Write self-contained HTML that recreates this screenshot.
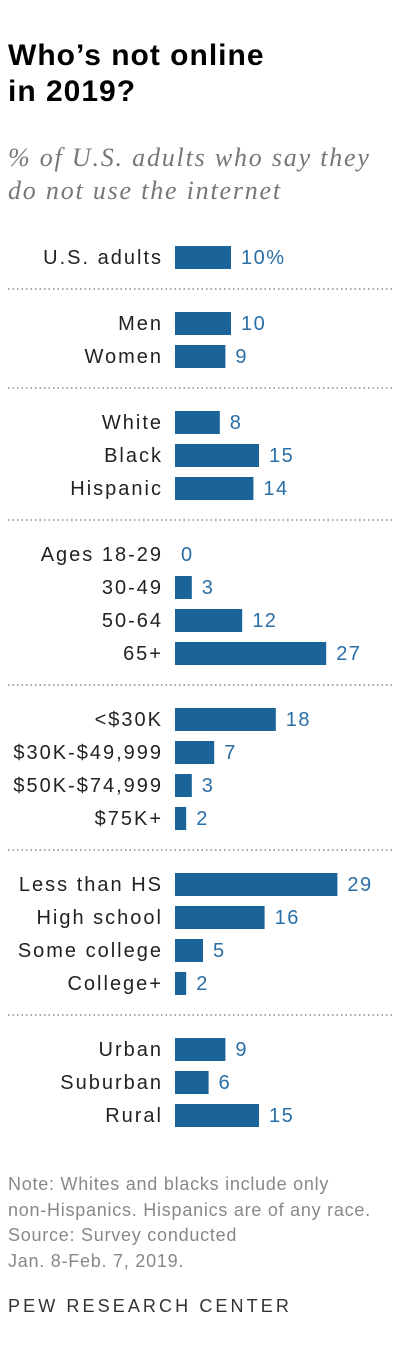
<!DOCTYPE html>
<html><head><meta charset="utf-8"><style>
body{margin:0;background:#fff;width:400px;height:1364px;overflow:hidden;font-family:"Liberation Sans",sans-serif;}
#title{position:absolute;left:8px;top:38px;font-size:30px;letter-spacing:1px;font-weight:bold;line-height:36px;color:#000;margin:0}
#sub{position:absolute;left:8px;top:141px;font-family:"Liberation Serif",serif;font-style:italic;font-size:26px;letter-spacing:1.8px;line-height:33px;color:#777}
#note{position:absolute;left:8px;top:1172px;font-size:18px;letter-spacing:0.75px;line-height:25.5px;color:#888}
#foot{position:absolute;left:8px;top:1296px;font-size:18px;letter-spacing:3.1px;color:#333}
</style></head><body>
<h1 id="title">Who’s not online<br>in 2019?</h1>
<div id="sub">% of U.S. adults who say they<br>do not use the internet</div>
<svg id="chart" width="400" height="1364" style="position:absolute;left:0;top:0"></svg>
<div id="note">Note: Whites and blacks include only<br>non-Hispanics. Hispanics are of any race.<br>Source: Survey conducted<br>Jan. 8-Feb. 7, 2019.</div>
<div id="foot">PEW RESEARCH CENTER</div>
<script>
const categories=["U.S. adults","Men","Women","White","Black","Hispanic","Ages 18-29","30-49","50-64","65+","<$30K","$30K-$49,999","$50K-$74,999","$75K+","Less than HS","High school","Some college","College+","Urban","Suburban","Rural"];
const values=[10,10,9,8,15,14,0,3,12,27,18,7,3,2,29,16,5,2,9,6,15];
const groups=[0,1,1,2,2,2,3,3,3,3,4,4,4,4,5,5,5,5,6,6,6];
const svg=document.getElementById('chart');
const NS='http://www.w3.org/2000/svg';
const x0=175,scale=5.6;
function xs(v){return v*scale;}
function yc(i){return 257+i*33+groups[i]*33;}
for(let g=1;g<=6;g++){
  const first=groups.indexOf(g);
  const y=yc(first)-34;
  const l=document.createElementNS(NS,'line');
  l.setAttribute('x1',8);l.setAttribute('x2',392);l.setAttribute('y1',y);l.setAttribute('y2',y);
  l.setAttribute('stroke','#888');l.setAttribute('stroke-width',1.5);l.setAttribute('stroke-dasharray','1.5,3');
  
  
  svg.appendChild(l);
}
categories.forEach((c,i)=>{
  const y=yc(i);
  const t=document.createElementNS(NS,'text');
  t.setAttribute('x',163);t.setAttribute('y',y+7);t.setAttribute('text-anchor','end');
  t.setAttribute('font-size','20');t.setAttribute('letter-spacing','2');t.setAttribute('fill','#222');t.setAttribute('font-family','Liberation Sans,sans-serif');
  t.textContent=c;
  
  
  svg.appendChild(t);
  const w=xs(values[i]);
  if(w>0){
    const r=document.createElementNS(NS,'rect');
    r.setAttribute('x',x0);r.setAttribute('y',y-11);r.setAttribute('width',w);r.setAttribute('height',23);
    r.setAttribute('fill','#1a6499');
    
    
    svg.appendChild(r);
  }
  const v=document.createElementNS(NS,'text');
  v.setAttribute('x',x0+w+(w>0?10:6));v.setAttribute('y',y+7);
  v.setAttribute('font-size','20');v.setAttribute('letter-spacing','1.5');v.setAttribute('fill','#2a6ea6');v.setAttribute('font-family','Liberation Sans,sans-serif');
  v.textContent=values[i]+(i===0?'%':'');
  
  
  svg.appendChild(v);
});
</script>
</body></html>
